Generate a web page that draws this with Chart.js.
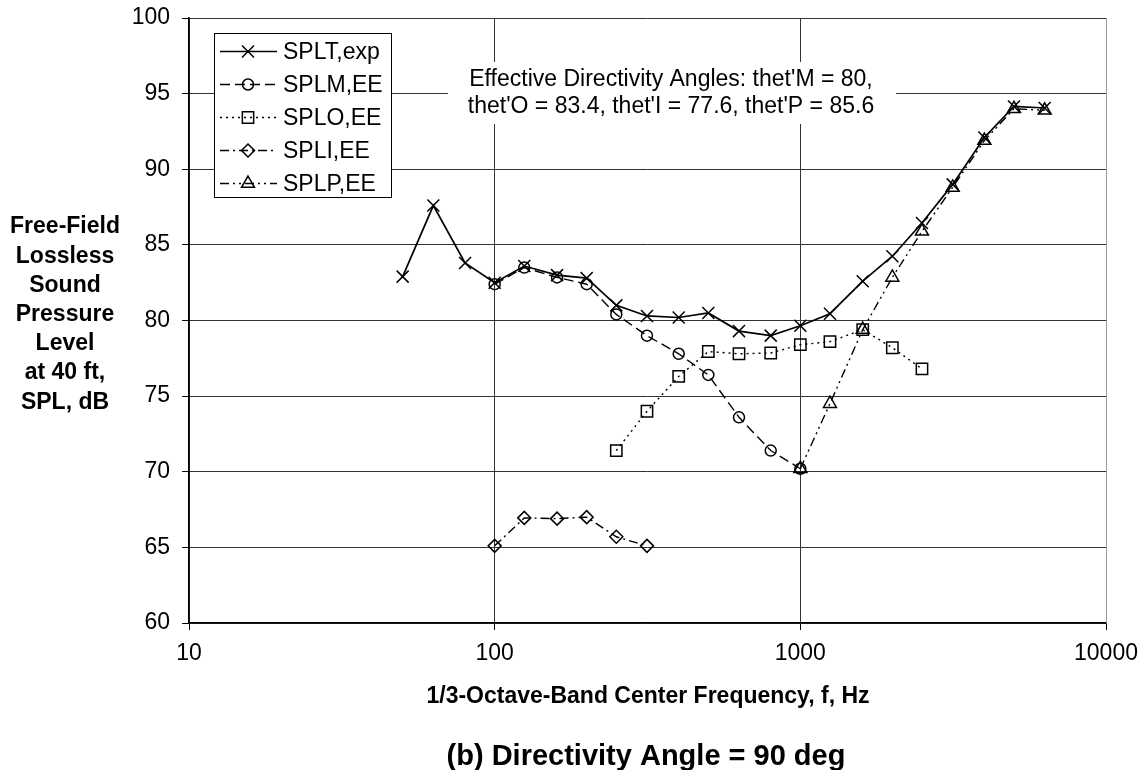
<!DOCTYPE html>
<html>
<head>
<meta charset="utf-8">
<script src="https://cdn.jsdelivr.net/npm/chart.js@4.4.1/dist/chart.umd.min.js"></script>
<style>
html,body{margin:0;padding:0;background:#fff;}
#wrap{width:1144px;height:770px;position:relative;}
</style>
</head>
<body>
<div id="wrap"><canvas id="c" width="1144" height="770"></canvas></div>
<script>
// ---- Data ----
const freqT = [50,63,80,100,125,160,200,250,315,400,500,630,800,1000,1250,1600,2000,2500,3150,4000,5000,6300];
const splT  = [82.9,87.6,83.8,82.5,83.6,83.0,82.8,81.0,80.3,80.2,80.5,79.3,79.0,79.65,80.45,82.6,84.25,86.45,89.0,92.1,94.15,94.05];
const freqM = [100,125,160,200,250,315,400,500,630,800,1000];
const splM  = [82.4,83.5,82.85,82.4,80.4,79.0,77.8,76.4,73.6,71.4,70.2];
const freqO = [250,315,400,500,630,800,1000,1250,1600,2000,2500];
const splO  = [71.4,74.0,76.3,77.95,77.8,77.85,78.4,78.6,79.4,78.2,76.8];
const freqI = [100,125,160,200,250,315];
const splI  = [65.1,66.95,66.9,67.0,65.7,65.1];
const freqP = [1000,1250,1600,2000,2500,3150,4000,5000,6300];
const splP  = [70.2,74.5,79.4,82.85,85.9,88.8,91.9,94.0,93.9];
const seriesLabels = ['SPLT,exp','SPLM,EE','SPLO,EE','SPLI,EE','SPLP,EE'];
const xTicks = [10,100,1000,10000];
const yTitleLines = ['Free-Field','Lossless','Sound','Pressure','Level','at 40 ft,','SPL, dB'];
const xTitle = '1/3-Octave-Band Center Frequency, f, Hz';
const subTitle = '(b) Directivity Angle = 90 deg';
const noteLines = ["Effective Directivity Angles: thet'M = 80,", "thet'O = 83.4, thet'I = 77.6, thet'P = 85.6"];

const pts = (f, v) => f.map((x, i) => ({x: x, y: v[i]}));

const styles = [
  {pointStyle:'crossRot', radius:8.5, dash:[], width:1.7},
  {pointStyle:'circle', radius:5.5, dash:[10,5], width:1.4},
  {pointStyle:'rect', radius:8, dash:[2,4], width:1.4},
  {pointStyle:'rectRot', radius:6.5, dash:[9,4,2,4], width:1.4},
  {pointStyle:'triangle', radius:7.5, dash:[9,4,2,4,2,4], width:1.4}
];
const dataSets = [pts(freqT,splT), pts(freqM,splM), pts(freqO,splO), pts(freqI,splI), pts(freqP,splP)];

const FONT = '"Liberation Sans", Arial, Helvetica, sans-serif';

const datasets = dataSets.map((d, i) => ({
  label: seriesLabels[i],
  data: d,
  borderColor: '#000',
  backgroundColor: 'transparent',
  borderWidth: styles[i].width,
  borderDash: styles[i].dash,
  pointStyle: styles[i].pointStyle,
  pointRadius: styles[i].radius,
  pointBorderWidth: 1.5,
  pointBorderColor: '#000',
  pointBackgroundColor: 'transparent',
  tension: 0,
  fill: false,
  order: 5 - i
}));

function drawMarker(ctx, style, x, y, r) {
  ctx.beginPath();
  if (style === 'crossRot') {
    const o = r * Math.SQRT1_2;
    ctx.moveTo(x - o, y - o); ctx.lineTo(x + o, y + o);
    ctx.moveTo(x - o, y + o); ctx.lineTo(x + o, y - o);
  } else if (style === 'circle') {
    ctx.arc(x, y, r, 0, Math.PI * 2);
  } else if (style === 'rect') {
    const s = r * Math.SQRT1_2;
    ctx.rect(x - s, y - s, 2 * s, 2 * s);
  } else if (style === 'rectRot') {
    ctx.moveTo(x - r, y); ctx.lineTo(x, y - r); ctx.lineTo(x + r, y); ctx.lineTo(x, y + r); ctx.closePath();
  } else if (style === 'triangle') {
    const s = Math.sin(2 * Math.PI / 3) * r, c = Math.cos(2 * Math.PI / 3) * r;
    ctx.moveTo(x, y - r);
    ctx.lineTo(x + s, y - c);
    ctx.lineTo(x - s, y - c);
    ctx.closePath();
  }
  ctx.stroke();
}

const decor = {
  id: 'decor',
  beforeDatasetsDraw(chart) {
    const {ctx, chartArea: a} = chart;
    ctx.save();
    ctx.strokeStyle = '#9a9a9a';
    ctx.lineWidth = 1;
    ctx.beginPath();
    ctx.moveTo(a.right + 0.5, a.top); ctx.lineTo(a.right + 0.5, a.bottom);
    ctx.stroke();
    ctx.restore();
  },
  afterDatasetsDraw(chart) {
    const {ctx, chartArea: a} = chart;
    ctx.save();
    // annotation box
    ctx.fillStyle = '#fff';
    ctx.fillRect(448, 62, 448, 62);
    ctx.fillStyle = '#000';
    ctx.font = '23px ' + FONT;
    ctx.textAlign = 'center';
    ctx.textBaseline = 'middle';
    ctx.fillText(noteLines[0], 671, 80);
    ctx.fillText(noteLines[1], 671, 107);

    // legend box
    ctx.fillStyle = '#fff';
    ctx.fillRect(214, 33, 178, 165);
    ctx.strokeStyle = '#000';
    ctx.lineWidth = 1;
    ctx.strokeRect(214.5, 33.5, 177, 164);
    const rows = [51.5, 84.5, 117.5, 150.5, 183.5];
    ctx.textAlign = 'left';
    ctx.textBaseline = 'middle';
    ctx.font = '23px ' + FONT;
    rows.forEach((ry, i) => {
      const st = styles[i];
      ctx.strokeStyle = '#000';
      ctx.lineWidth = st.width;
      ctx.setLineDash(st.dash);
      ctx.beginPath();
      ctx.moveTo(220, ry); ctx.lineTo(277, ry);
      ctx.stroke();
      ctx.setLineDash([]);
      ctx.lineWidth = 1.5;
      drawMarker(ctx, st.pointStyle, 248, ry, st.radius);
      ctx.fillStyle = '#000';
      ctx.fillText(seriesLabels[i], 283, ry + 1);
    });

    // y title
    ctx.font = 'bold 23px ' + FONT;
    ctx.textAlign = 'center';
    yTitleLines.forEach((t, i) => ctx.fillText(t, 65, 227 + i * 29.2));
    // x title
    ctx.fillText(xTitle, 648, 697);
    ctx.font = 'bold 29px ' + FONT;
    ctx.fillText(subTitle, 646, 757);
    ctx.restore();
  }
};

new Chart(document.getElementById('c'), {
  type: 'line',
  data: {datasets},
  options: {
    responsive: false,
    animation: false,
    devicePixelRatio: 1,
    layout: {padding: {left: 0, right: 38, top: 18, bottom: 0}},
    plugins: {legend: {display: false}, tooltip: {enabled: false}},
    scales: {
      x: {
        type: 'logarithmic',
        min: 10, max: 10000,
        afterBuildTicks: s => { s.ticks = xTicks.map(v => ({value: v})); },
        afterFit: s => { s.height = 147; s.paddingLeft = 0; s.paddingRight = 0; },
        ticks: {
          color: '#000', font: {family: FONT, size: 23}, padding: 10,
          autoSkip: false, maxRotation: 0,
          callback: v => String(v)
        },
        grid: {color: '#333', lineWidth: 1, tickLength: 7, drawTicks: true, tickColor: '#000'},
        border: {color: '#000', width: 1.5}
      },
      y: {
        min: 60, max: 100,
        afterFit: s => { s.width = 189; s.paddingTop = 0; s.paddingBottom = 0; },
        ticks: {stepSize: 5, color: '#000', font: {family: FONT, size: 23}, padding: 12},
        grid: {color: '#333', lineWidth: 1, tickLength: 7, tickColor: '#000'},
        border: {color: '#000', width: 1.5}
      }
    }
  },
  plugins: [decor]
});
</script>
</body>
</html>
